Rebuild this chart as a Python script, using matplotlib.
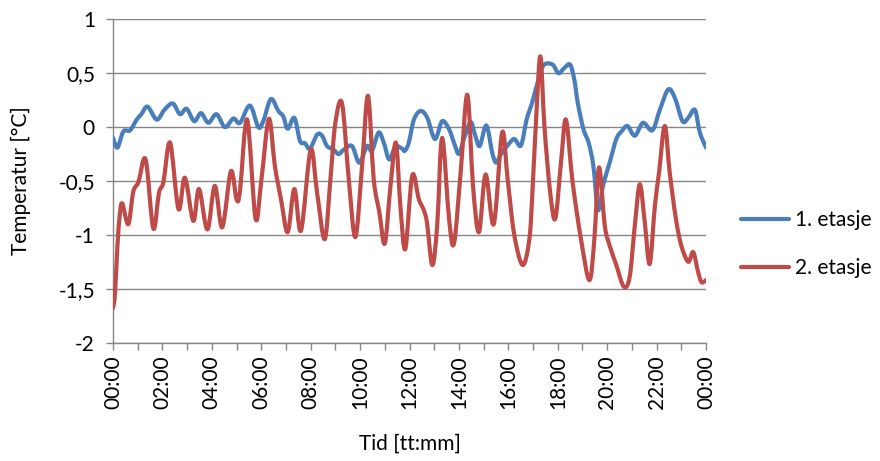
import matplotlib
matplotlib.use("Agg")
import matplotlib.pyplot as plt
from matplotlib.path import Path
from matplotlib.patches import PathPatch
from matplotlib.lines import Line2D
from matplotlib.ticker import FixedLocator, FuncFormatter

plt.rcParams['font.family'] = ['Lato', 'DejaVu Sans']

# Time of day in hours and temperature readings [°C]
blue_t = [0.0, 0.18, 0.42, 0.69, 0.96, 1.15, 1.4, 1.77, 2.08, 2.42, 2.71, 2.98,
          3.29, 3.56, 3.86, 4.19, 4.53, 4.87, 5.14, 5.54, 5.88, 6.08, 6.39, 6.69,
          6.89, 7.07, 7.34, 7.57, 7.77, 7.97, 8.26, 8.46, 8.66, 8.93, 9.13, 9.34,
          9.67, 9.97, 10.28, 10.48, 10.75, 10.96, 11.18, 11.43, 11.7, 11.81, 11.97,
          12.18, 12.45, 12.72, 13.03, 13.32, 13.6, 13.8, 14.0, 14.2, 14.47, 14.65,
          14.84, 15.11, 15.35, 15.51, 15.7, 15.97, 16.24, 16.51, 16.74, 16.98,
          17.25, 17.45, 17.79, 18.03, 18.27, 18.5, 18.67, 18.81, 19.04, 19.25,
          19.44, 19.6, 19.7, 19.83, 20.1, 20.37, 20.58, 20.82, 21.12, 21.45, 21.83,
          22.13, 22.47, 22.74, 23.05, 23.28, 23.55, 23.75, 24.0]
blue_v = [-0.1, -0.19, -0.04, -0.03, 0.07, 0.12, 0.19, 0.07, 0.16, 0.22, 0.12, 0.17,
          0.055, 0.13, 0.04, 0.12, 0.0, 0.08, 0.04, 0.2, 0.0, 0.055, 0.26, 0.15,
          0.1, -0.015, 0.086, -0.13, -0.15, -0.2, -0.07, -0.08, -0.175, -0.21, -0.25, -0.21,
          -0.175, -0.33, -0.175, -0.22, -0.05, -0.145, -0.3, -0.18, -0.2, -0.22, -0.145,
          0.07, 0.15, 0.086, -0.11, 0.055, -0.02, -0.145, -0.25, -0.11, 0.046, -0.07,
          -0.175, 0.015, -0.24, -0.33, -0.25, -0.17, -0.11, -0.17, 0.07, 0.24,
          0.47, 0.58, 0.58, 0.5, 0.55, 0.58, 0.44, 0.225, -0.02, -0.145,
          -0.36, -0.74, -0.73, -0.545, -0.33, -0.11, -0.04, 0.01, -0.08, 0.04, -0.03,
          0.16, 0.35, 0.27, 0.055, 0.086, 0.16, -0.05, -0.19]

red_t = [0.0, 0.08, 0.18, 0.28, 0.38, 0.62, 0.82, 1.03, 1.32, 1.63, 1.86, 2.04,
         2.31, 2.65, 2.91, 3.25, 3.48, 3.82, 4.12, 4.42, 4.77, 5.0, 5.14, 5.43,
         5.77, 6.01, 6.31, 6.55, 6.8, 7.07, 7.34, 7.61, 8.0, 8.26, 8.57, 8.8,
         9.0, 9.27, 9.54, 9.81, 10.08, 10.32, 10.55, 10.78, 11.0, 11.23, 11.45,
         11.63, 11.83, 12.11, 12.38, 12.68, 12.92, 13.12, 13.32, 13.6, 13.8, 14.07,
         14.34, 14.57, 14.81, 15.08, 15.41, 15.75, 15.97, 16.24, 16.58, 16.85,
         16.98, 17.15, 17.3, 17.46, 17.69, 17.9, 18.13, 18.33, 18.6, 18.94, 19.28,
         19.48, 19.67, 19.9, 20.1, 20.37, 20.67, 20.91, 21.12, 21.32, 21.52, 21.72,
         21.93, 22.1, 22.33, 22.53, 22.78, 23.0, 23.28, 23.48, 23.68, 23.82, 24.0]
red_v = [-1.68, -1.55, -1.1, -0.8, -0.71, -0.9, -0.6, -0.51, -0.3, -0.94, -0.61, -0.51,
         -0.145, -0.76, -0.47, -0.87, -0.575, -0.95, -0.545, -0.93, -0.41, -0.67, -0.59, 0.07,
         -0.85, -0.48, 0.077, -0.36, -0.67, -0.975, -0.575, -0.96, -0.21, -0.61, -1.04, -0.48,
         0.04, 0.22, -0.48, -1.02, -0.36, 0.29, -0.48, -0.79, -1.08, -0.545, -0.145,
         -0.73, -1.13, -0.45, -0.67, -0.85, -1.28, -0.91, -0.1, -0.85, -1.08, -0.42,
         0.3, -0.545, -0.975, -0.44, -0.9, -0.05, -0.48, -1.0, -1.28, -1.04,
         -0.575, 0.19, 0.655, 0.01, -0.6, -0.85, -0.33, 0.07, -0.51, -1.04, -1.42,
         -1.04, -0.375, -0.91, -1.1, -1.28, -1.48, -1.39, -0.91, -0.53, -0.88, -1.27,
         -0.73, -0.42, 0.01, -0.42, -0.85, -1.1, -1.25, -1.16, -1.345, -1.44, -1.42]

series_names = ["1. etasje", "2. etasje"]
series_colors = ["#4A7EBB", "#BE4B48"]

x_label = "Tid [tt:mm]"
y_label = "Temperatur [°C]"
y_ticks = [-2, -1.5, -1, -0.5, 0, 0.5, 1]
x_tick_labels = ["00:00", "02:00", "04:00", "06:00", "08:00", "10:00", "12:00",
                 "14:00", "16:00", "18:00", "20:00", "22:00", "00:00"]

grey = "#868686"
fs = 15
lw = 3.0


def smooth_path(xs, ys):
    """Smoothed line through the readings as cubic Bezier segments."""
    pts = list(zip(xs, ys))
    n = len(pts)
    verts = [pts[0]]
    codes = [Path.MOVETO]
    for i in range(n - 1):
        p0 = pts[max(i - 1, 0)]
        p1 = pts[i]
        p2 = pts[i + 1]
        p3 = pts[min(i + 2, n - 1)]
        c1 = (p1[0] + (p2[0] - p0[0]) / 6, p1[1] + (p2[1] - p0[1]) / 6)
        c2 = (p2[0] - (p3[0] - p1[0]) / 6, p2[1] - (p3[1] - p1[1]) / 6)
        verts += [c1, c2, p2]
        codes += [Path.CURVE4] * 3
    return Path(verts, codes)


fig = plt.figure(figsize=(8.8, 4.61), dpi=100)
ax = fig.add_axes([0.1284, 0.2568, 0.8023 - 0.1284, 0.958 - 0.2568])

handles = []
for t, v, name, col in zip([blue_t, red_t], [blue_v, red_v], series_names, series_colors):
    patch = PathPatch(smooth_path(t, v), facecolor='none', edgecolor=col,
                      lw=lw, joinstyle='round', capstyle='round', zorder=3,
                      transform=ax.transData)
    ax.add_patch(patch)
    handles.append(Line2D([], [], color=col, lw=lw, solid_capstyle='round',
                          label=name))

ax.set_xlim(0, 24)
ax.set_ylim(-2, 1)

ax.yaxis.set_major_locator(FixedLocator(y_ticks))
ax.yaxis.set_major_formatter(FuncFormatter(
    lambda v, p: ("%g" % v).replace(".", ",")))
ax.grid(axis='y', color=grey, lw=1.0, zorder=1)
ax.set_axisbelow(True)

ax.set_xticks(range(0, 25, 2))
ax.set_xticklabels(x_tick_labels, rotation=90, fontsize=fs)
ax.set_xticks(range(0, 25), minor=True)

for s in ['top', 'right']:
    ax.spines[s].set_visible(False)
for s in ['left', 'bottom']:
    ax.spines[s].set_color(grey)
    ax.spines[s].set_linewidth(1.0)

ax.tick_params(axis='both', which='both', direction='out', color=grey,
               length=5, width=1.0, labelsize=fs)
ax.tick_params(axis='y', pad=8)
ax.tick_params(axis='x', pad=4)

ax.set_xlabel(x_label, fontsize=fs, labelpad=18)
ax.set_ylabel(y_label, fontsize=fs, labelpad=20)

leg = fig.legend(handles=handles, loc='center left',
                 bbox_to_anchor=(741 / 880, 1 - 244 / 461),
                 bbox_transform=fig.transFigure, frameon=False, fontsize=fs,
                 handlelength=2.3, handletextpad=0.3, labelspacing=1.35,
                 borderpad=0, borderaxespad=0)

fig.savefig("out.png", dpi=100)
